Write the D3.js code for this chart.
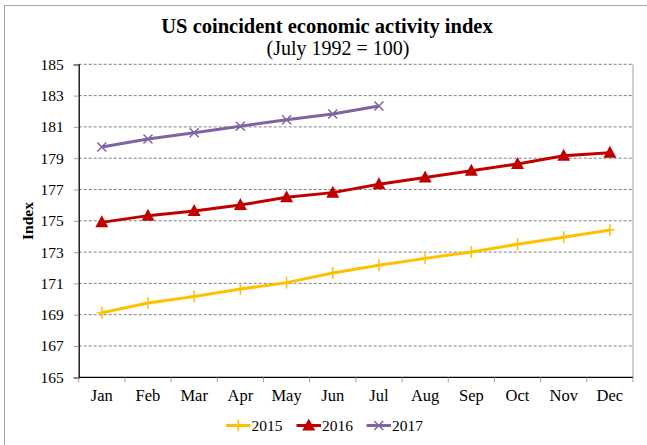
<!DOCTYPE html>
<html><head><meta charset="utf-8">
<script src="https://cdn.jsdelivr.net/npm/d3@7"></script>
<style>body{margin:0;background:#fff}svg{display:block}svg text{font-family:"Liberation Serif","Times New Roman","Tinos","DejaVu Serif",serif !important}</style>
</head><body>
<script>
const months = ["Jan","Feb","Mar","Apr","May","Jun","Jul","Aug","Sep","Oct","Nov","Dec"];
const yTicks = [165,167,169,171,173,175,177,179,181,183,185];
const v2015 = [169.13,169.75,170.17,170.64,171.05,171.66,172.16,172.6,173.01,173.5,173.95,174.41];
const v2016 = [174.9,175.33,175.63,176.01,176.5,176.8,177.33,177.76,178.2,178.63,179.16,179.35];
const v2017 = [179.72,180.23,180.63,181.04,181.46,181.82,182.34];
const seriesNames = ["2015","2016","2017"];
const colors = ["#FFC000","#C00000","#8064A2"];

const W=647,H=445;
const svg=d3.select("body").append("svg").attr("width",W).attr("height",H);
svg.append("rect").attr("x",4.5).attr("y",5.5).attr("width",W+10).attr("height",H+10).attr("fill","#fff").attr("stroke","#a6a6a6");

const L=78.7,R=633,T=64.3,B=377.3;
const x=d3.scaleBand().domain(months).range([L,R]);
const y=d3.scaleLinear().domain([165,185]).range([B,T]);

// gridlines
svg.append("g").selectAll("line").data(yTicks.filter(t=>t>165)).join("line")
 .attr("x1",L).attr("x2",R).attr("y1",d=>y(d)).attr("y2",d=>y(d))
 .attr("stroke","#7f7f7f").attr("stroke-width",1).attr("stroke-dasharray","3,2");
svg.append("line").attr("x1",R).attr("x2",R).attr("y1",T).attr("y2",B).attr("stroke","#a0a0a0");

// y axis
const ya=svg.append("g").attr("transform",`translate(${L},0)`).call(d3.axisLeft(y).tickValues(yTicks).tickSize(5).tickPadding(10));
ya.select(".domain").attr("stroke","#000").attr("stroke-width",1.3);
ya.selectAll(".tick line").attr("stroke","#a0a0a0");
ya.selectAll("text").attr("font-size",15.5).attr("fill","#000");

// x axis
const xa=svg.append("g").attr("transform",`translate(0,${B})`).call(d3.axisBottom(x).tickSize(0).tickPadding(12));
xa.select(".domain").remove();
xa.selectAll("text").attr("font-size",16.5).attr("fill","#000");
svg.append("line").attr("x1",L).attr("x2",R).attr("y1",B).attr("y2",B).attr("stroke","#000").attr("stroke-width",1.3);
const bounds=months.map(m=>x(m)).concat([R]);
svg.append("g").selectAll("line").data(bounds).join("line")
 .attr("x1",d=>d).attr("x2",d=>d).attr("y1",B).attr("y2",B+5).attr("stroke","#a0a0a0");

// lines
const cx=i=>x(months[i])+x.bandwidth()/2;
const line=d3.line().x((d,i)=>cx(i)).y(d=>y(d));
const allSeries=[v2015,v2016,v2017];
allSeries.forEach((s,k)=>{
  svg.append("path").datum(s).attr("d",line).attr("fill","none").attr("stroke",colors[k]).attr("stroke-width",3);
});
function marker(g,k,px,py){
  if(k===0){
    g.append("line").attr("x1",px).attr("x2",px).attr("y1",py-6).attr("y2",py+6).attr("stroke",colors[0]).attr("stroke-width",1.5);
    g.append("line").attr("x1",px-5).attr("x2",px+5).attr("y1",py).attr("y2",py).attr("stroke",colors[0]).attr("stroke-width",1.5);
  } else if(k===1){
    g.append("path").attr("d",`M${px},${py-7}L${px+6.5},${py+5}L${px-6.5},${py+5}Z`).attr("fill",colors[1]);
  } else {
    g.append("path").attr("d",`M${px-4.5},${py-4.5}L${px+4.5},${py+4.5}M${px-4.5},${py+4.5}L${px+4.5},${py-4.5}`).attr("stroke",colors[2]).attr("stroke-width",1.5);
  }
}
allSeries.forEach((s,k)=>{
  const g=svg.append("g");
  s.forEach((v,i)=>marker(g,k,cx(i),y(v)));
});

// titles
svg.append("text").attr("x",327).attr("y",33).attr("text-anchor","middle").attr("font-size",20.5).attr("font-weight","bold").text("US coincident economic activity index");
svg.append("text").attr("x",338).attr("y",55).attr("text-anchor","middle").attr("font-size",20).text("(July 1992 = 100)");
svg.append("text").attr("transform","translate(33,221) rotate(-90)").attr("text-anchor","middle").attr("font-size",15.5).attr("font-weight","bold").text("Index");

// legend
const lx=[226,296.5,366.5];
seriesNames.forEach((n,k)=>{
  const g=svg.append("g");
  g.append("line").attr("x1",lx[k]).attr("x2",lx[k]+24.5).attr("y1",425.5).attr("y2",425.5).attr("stroke",colors[k]).attr("stroke-width",3);
  marker(g,k,lx[k]+12.25,425.5);
  g.append("text").attr("x",lx[k]+25.5).attr("y",431).attr("font-size",15.5).text(n);
});
</script>
</body></html>
